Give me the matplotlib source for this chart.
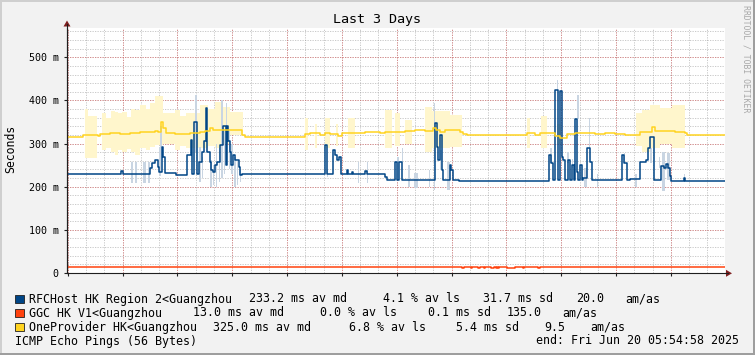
import matplotlib
matplotlib.use('Agg')
import matplotlib.pyplot as plt
from matplotlib.patches import Rectangle, Polygon
from matplotlib.lines import Line2D
import numpy as np

# time axis: hours since graph start (Tue Jun 17 05:54:58 2025), 72 h long
span_h = 72.0
start_clock = 5 + 54 / 60 + 58 / 3600
tick_names = ['Tue 12:00', 'Wed 00:00', 'Wed 12:00', 'Thu 00:00', 'Thu 12:00', 'Fri 00:00']

# RFCHost median rtt (ms), step changes
blue_t = [0, 5.86, 6.13, 9.09, 9.31, 9.58, 9.96, 10.07, 10.35, 10.51, 10.73, 11.93,
          13.08, 13.52, 13.69, 13.91, 14.23, 14.40, 14.73, 15.00, 15.16, 15.33, 15.60,
          15.77, 15.99, 16.20, 16.42, 16.75, 17.08, 17.36, 17.46, 17.63, 17.79, 17.96,
          18.12, 18.34, 18.78, 18.94, 19.16, 28.25, 28.44, 29.16, 29.34, 29.53, 29.78,
          29.95, 30.63, 30.80, 31.17, 31.32, 32.63, 32.79, 34.82, 35.04, 35.91, 36.13,
          36.35, 36.68, 40.29, 40.48, 40.62, 40.84, 41.06, 41.17, 41.86, 42.05, 42.21,
          42.84, 52.72, 52.99, 53.21, 53.43, 53.69, 53.90, 54.12, 54.28, 54.45, 54.86,
          55.08, 55.26, 55.44, 55.62, 55.81, 55.95, 56.09, 56.35, 56.50, 56.90, 57.27,
          57.45, 60.73, 60.98, 61.24, 61.64, 62.74, 63.40, 63.62, 63.83, 64.27, 65.04,
          65.29, 65.59, 65.78, 65.96, 66.14, 67.48, 67.67]
blue_v = [230, 237, 230, 243, 255, 262, 246, 235, 293, 270, 232, 228,
          274, 308, 229, 351, 229, 258, 281, 305, 382, 281, 258,
          239, 235, 250, 258, 297, 341, 250, 341, 305, 280, 250,
          274, 262, 245, 227, 230, 297, 230, 285, 274, 262, 270,
          230, 239, 230, 235, 230, 237, 230, 222, 216, 258, 216,
          258, 216, 347, 293, 262, 320, 239, 216, 250, 239, 216,
          214, 274, 256, 216, 425, 216, 421, 270, 262, 216, 262,
          216, 250, 216, 357, 235, 216, 250, 216, 220, 290, 258,
          216, 274, 256, 216, 218, 258, 262, 290, 316, 216, 247,
          244, 252, 244, 225, 214, 221, 214]

# GGC median rtt (ms)
red_t = [0, 43.25, 43.47, 44.20, 44.37, 44.97, 45.14, 45.58, 45.77, 46.42, 46.68,
         46.94, 47.05, 47.16, 47.30, 48.14, 49.05, 49.90, 50.04, 51.50, 51.79]
red_v = [13.2, 11, 13.2, 11, 13.2, 11, 13.2, 11, 13.2, 11, 13.2,
         11, 13.2, 11, 13.2, 11, 13.2, 11, 13.2, 11, 13.2]

# OneProvider median rtt (ms)
yellow_t = [0, 1.78, 3.39, 3.61, 4.71, 5.80, 6.90, 7.99, 9.09, 9.64, 9.96, 10.31, 10.46,
            10.84, 11.83, 12.59, 13.47, 14.56, 15.11, 15.66, 15.99, 19.13, 19.49, 20.58,
            25.51, 26.06, 26.61, 27.70, 28.25, 28.80, 29.67, 30.11, 30.99, 32.63, 34.27,
            34.82, 35.91, 37.00, 38.10, 39.20, 40.07, 40.40, 40.84, 41.39, 43.03, 43.36,
            43.80, 50.37, 51.24, 51.79, 53.43, 53.98, 54.53, 54.75, 55.62, 56.72, 57.81,
            58.91, 60.00, 61.10, 62.74, 63.29, 64.05, 64.38, 65.47, 66.57, 67.67, 67.89]
yellow_v = [315, 320, 317, 322, 324, 322, 325, 327, 328, 330, 326, 349, 336,
            324, 323, 322, 325, 327, 330, 336, 332, 320, 316, 315,
            316, 322, 324, 321, 325, 323, 318, 324, 325, 326, 324,
            328, 327, 329, 331, 330, 336, 332, 328, 331, 327, 322,
            320, 324, 320, 325, 318, 313, 312, 322, 324, 325, 322,
            324, 322, 321, 326, 328, 339, 330, 329, 327, 325, 320]

# smoke (ping spread) for RFCHost: start h, end h, low ms, high ms
blue_smoke_start = [7.01, 7.45, 8.35, 8.90, 10.05, 10.20, 14.02, 14.45, 14.75, 15.66, 16.00,
                    16.30, 16.60, 16.90, 17.15, 17.40, 17.70, 18.00, 18.30, 18.60, 18.90,
                    28.44, 31.79, 32.81, 36.10, 36.65, 37.26, 37.92, 39.56,
                    40.11, 40.84, 41.58, 52.88, 53.62, 54.71, 55.26, 55.81, 56.53, 57.08,
                    58.00, 60.91, 62.19, 63.83, 64.74, 65.11, 65.66, 67.48]
blue_smoke_end = [7.26, 7.63, 8.65, 9.09, 10.25, 10.37, 14.20, 14.62, 14.89, 15.82, 16.12,
                  16.45, 16.75, 17.05, 17.28, 17.52, 17.85, 18.12, 18.45, 18.75, 19.05,
                  28.60, 31.94, 32.96, 36.32, 36.79, 37.48, 38.43, 39.75,
                  40.29, 41.06, 41.94, 53.10, 53.76, 54.89, 55.40, 55.99, 56.90, 57.27,
                  58.15, 61.10, 62.38, 64.02, 64.93, 65.47, 66.02, 67.67]
blue_smoke_low = [208, 208, 208, 208, 226, 293, 281, 212, 220, 200, 205,
                  200, 210, 220, 230, 255, 240, 230, 200, 205, 210,
                  223, 208, 208, 216, 258, 200, 196, 200,
                  193, 239, 193, 255, 425, 255, 244, 357, 200, 290,
                  200, 255, 200, 255, 244, 189, 216, 210]
blue_smoke_high = [258, 258, 258, 258, 293, 340, 413, 293, 270, 262, 250,
                   300, 290, 401, 330, 394, 330, 300, 270, 260, 240,
                   240, 258, 258, 270, 289, 250, 231, 239,
                   394, 285, 258, 289, 448, 281, 264, 413, 244, 359,
                   230, 278, 230, 290, 270, 281, 278, 230]

# smoke for OneProvider
yellow_smoke_start = [1.97, 2.30, 3.80, 4.30, 4.80, 5.26, 5.58, 6.02, 6.60, 7.00, 7.45,
                      7.99, 8.60, 9.10, 9.64, 10.51, 11.83, 12.40, 13.00, 14.56, 15.40,
                      16.20, 17.00, 17.85, 26.06, 27.15, 28.25, 29.45, 30.77, 34.82,
                      35.91, 37.00, 39.20, 39.90, 40.60, 41.94, 50.37, 51.90, 53.65,
                      62.30, 62.96, 63.83, 64.93, 66.25]
yellow_smoke_end = [2.30, 3.28, 4.30, 4.80, 5.26, 5.58, 6.02, 6.60, 7.00, 7.45, 7.99,
                    8.60, 9.10, 9.64, 10.51, 11.83, 12.40, 13.00, 14.56, 15.40, 16.20,
                    17.00, 17.85, 19.27, 26.39, 27.37, 28.80, 29.67, 31.53, 35.59,
                    36.46, 37.78, 39.90, 40.60, 41.94, 43.25, 50.70, 52.56, 54.09,
                    62.96, 63.83, 64.93, 66.25, 67.67]
yellow_smoke_low = [266, 266, 285, 290, 280, 274, 285, 280, 288, 280, 274,
                    290, 285, 292, 297, 300, 285, 295, 290, 290, 295,
                    290, 300, 320, 285, 290, 290, 295, 290, 290,
                    295, 300, 281, 290, 290, 293, 290, 290, 300,
                    295, 281, 290, 300, 290]
yellow_smoke_high = [380, 365, 371, 360, 375, 373, 371, 373, 362, 380, 378,
                     390, 380, 395, 410, 371, 378, 365, 370, 390, 380,
                     397, 385, 373, 360, 345, 360, 345, 360, 378,
                     370, 355, 386, 375, 375, 367, 360, 363, 345,
                     370, 378, 390, 382, 390]

legend_names = ['RFCHost HK Region 2<Guangzhou', 'GGC HK V1<Guangzhou', 'OneProvider HK<Guangzhou']
legend_md = ['233.2 ms av md', '13.0 ms av md', '325.0 ms av md']
legend_ls = ['4.1 % av ls', '0.0 % av ls', '6.8 % av ls']
legend_sd = ['31.7 ms sd', '0.1 ms sd', '5.4 ms sd']
legend_amas = ['20.0', '135.0', '9.5']
colors = ['#004586', '#ff420e', '#ffd320']

W, H = 755, 355
plt.rcParams['font.family'] = ['DejaVu Sans Mono']
fig = plt.figure(figsize=(W / 100, H / 100), dpi=100, facecolor='#f2f2f2')


def fx(x):
    return x / W


def fy(y):
    return 1 - y / H


# 3d frame
fig.add_artist(Rectangle((0, 0), 1, 2 / H, transform=fig.transFigure, color='#9e9e9e', lw=0))
fig.add_artist(Rectangle((1 - 2 / W, 0), 2 / W, 1, transform=fig.transFigure, color='#9e9e9e', lw=0))
fig.add_artist(Rectangle((0, 1 - 2 / H), 1 - 2 / W, 2 / H, transform=fig.transFigure, color='#cfcfcf', lw=0))
fig.add_artist(Rectangle((0, 2 / H), 2 / W, 1 - 4 / H, transform=fig.transFigure, color='#cfcfcf', lw=0))

ax = fig.add_axes([fx(67), fy(273), 658 / W, 245 / H])
ax.set_facecolor('white')
ax.set_xlim(0, span_h)
ax.set_ylim(0, 568)

# grid
minor_x = np.arange(2 - start_clock % 2, span_h, 2)
major_x = np.arange((6 - start_clock) % 6, span_h, 6)
for x in minor_x:
    ax.axvline(x, color='#8f8f8f', alpha=0.55, lw=0.6, ls=(0, (1.5, 1.5)), zorder=0)
for y in np.arange(20, 568, 20):
    ax.axhline(y, color='#8f8f8f', alpha=0.55, lw=0.6, ls=(0, (1.5, 1.5)), zorder=0)
for x in major_x:
    ax.axvline(x, color='#de5050', alpha=0.6, lw=0.6, ls=(0, (1.5, 1.5)), zorder=0.5)
for y in np.arange(100, 568, 100):
    ax.axhline(y, color='#de5050', alpha=0.6, lw=0.6, ls=(0, (1.5, 1.5)), zorder=0.5)

# smoke
ax.bar(yellow_smoke_start, np.subtract(yellow_smoke_high, yellow_smoke_low),
       width=np.subtract(yellow_smoke_end, yellow_smoke_start), bottom=yellow_smoke_low,
       align='edge', color='#fff6cc', lw=0, zorder=1)
ax.bar(blue_smoke_start, np.subtract(blue_smoke_high, blue_smoke_low),
       width=np.subtract(blue_smoke_end, blue_smoke_start), bottom=blue_smoke_low,
       align='edge', color='#c9d5e2', lw=0, zorder=1.1)

# median lines
for t, v, c in [(blue_t, blue_v, colors[0]), (red_t, red_v, colors[1]), (yellow_t, yellow_v, colors[2])]:
    ax.step(np.append(t, span_h), np.append(v, v[-1]), where='post', color=c, lw=1.1, zorder=2)

# axes
for s in ['top', 'right']:
    ax.spines[s].set_visible(False)
for s in ['left', 'bottom']:
    ax.spines[s].set_color('#1f1f1f')
    ax.spines[s].set_linewidth(0.8)

label_x = np.arange(12 - start_clock, span_h, 12)
ax.set_xticks(major_x)
ax.set_xticklabels([''] * len(major_x))
ax.set_xticks(label_x, minor=True)
ax.set_xticklabels(tick_names, minor=True)
ax.tick_params(axis='x', which='minor', length=0, pad=4, labelsize=7.2)
ax.tick_params(axis='x', which='major', length=2, color='#1f1f1f', width=0.8)
yt = np.arange(0, 501, 100)
ax.set_yticks(yt)
ax.set_yticklabels(['0'] + [f'{v} m' for v in yt[1:]])
ax.tick_params(axis='y', length=2, color='#1f1f1f', width=0.8, pad=4, labelsize=7.2)

# arrows
fig.add_artist(Line2D([fx(67), fx(67)], [fy(273), fy(24)], transform=fig.transFigure, color='#1f1f1f', lw=0.8))
fig.add_artist(Line2D([fx(725), fx(728)], [fy(273.3), fy(273.3)], transform=fig.transFigure, color='#1f1f1f', lw=0.8))
fig.add_artist(Polygon([(fx(63.5), fy(26.5)), (fx(70.5), fy(26.5)), (fx(67), fy(20.5))], closed=True,
                       transform=fig.transFigure, color='#7f1f1f', lw=0))
fig.add_artist(Polygon([(fx(726), fy(269.8)), (fx(726), fy(276.8)), (fx(732), fy(273.3))], closed=True,
                       transform=fig.transFigure, color='#7f1f1f', lw=0))

# texts
fig.text(fx(377), fy(19), 'Last 3 Days', ha='center', va='center', fontsize=9.6)
fig.text(fx(10.5), fy(149), 'Seconds', rotation=90, ha='center', va='center', fontsize=8.3)
fig.text(fx(746), fy(59), 'RRDTOOL / TOBI OETIKER', rotation=-90, ha='center', va='center',
         fontsize=5.9, color='#a8a8a8')

rows_y = [299, 313, 327.3]
cols = [(legend_names, [30, 30, 30]), (legend_md, [249.3, 193.3, 213.3]),
        (legend_ls, [383.3, 320.7, 349.3]), (legend_sd, [483.3, 428.3, 456.7]),
        (legend_amas, [577.3, 507.7, 545]), (['am/as'] * 3, [625.7, 563.3, 591])]
for i, y in enumerate(rows_y):
    fig.add_artist(Rectangle((fx(15.5), fy(y + 4)), 8 / W, 8 / H, transform=fig.transFigure,
                             facecolor=colors[i], edgecolor='#202020', lw=0.6))
    for texts, xs in cols:
        fig.text(fx(xs[i] - 0.7), fy(y), texts[i], ha='left', va='center', fontsize=8.35)
fig.text(fx(15.3), fy(341), 'ICMP Echo Pings (56 Bytes)', ha='left', va='center', fontsize=8.35)
fig.text(fx(738.5), fy(341), 'end: Fri Jun 20 05:54:58 2025', ha='right', va='center', fontsize=8.35)

fig.savefig('out.png', dpi=100, facecolor=fig.get_facecolor())
